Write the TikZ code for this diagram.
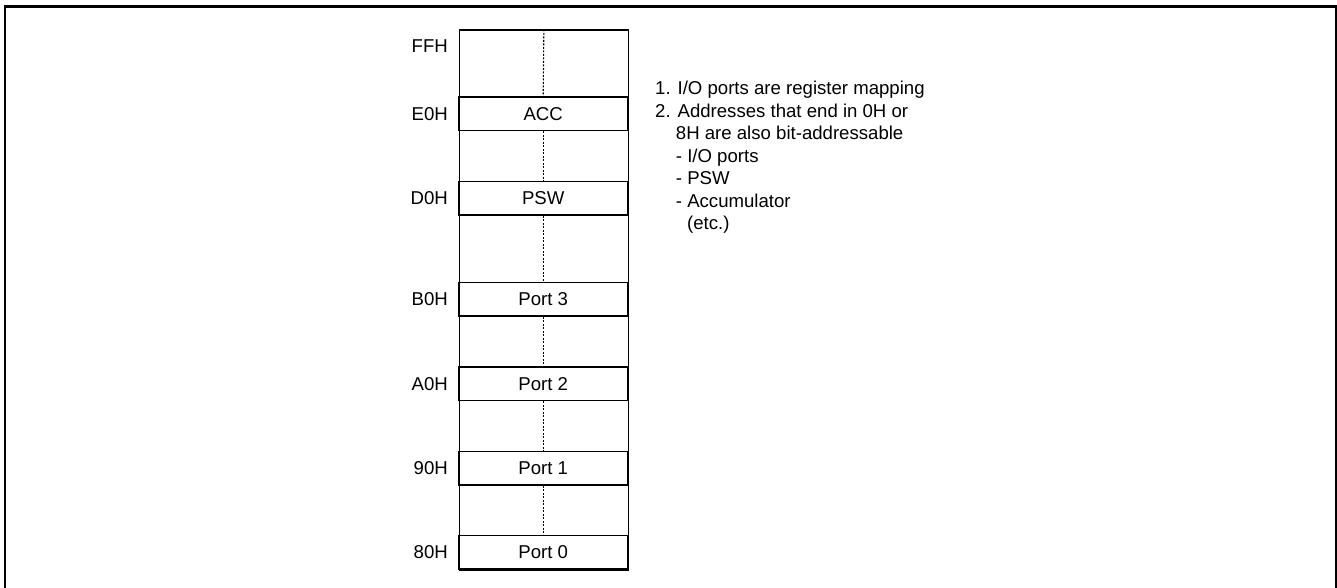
\documentclass[tikz,border=0pt]{standalone}
\usepackage{fontspec}
\setmainfont{Liberation Sans}
\begin{document}
\begin{tikzpicture}[x=1pt,y=-1pt,
  every node/.style={font=\fontsize{18.6}{22.5}\selectfont, inner sep=0pt},
  memmap/.style={draw, line width=1.3pt, minimum width=169pt, minimum height=540pt, anchor=north west},
  regrow/.style={draw, line width=1.5pt, minimum width=169pt, minimum height=33.5pt, text height=13.3pt, text depth=0pt},
  addr/.style={anchor=east, text height=13.3pt, text depth=0pt},
  note/.style={anchor=base west},
  gapline/.style={line width=1.1pt, dash pattern=on 2pt off 1.5pt},
  frame/.style={line width=2.2pt}]
\useasboundingbox (0,0) rectangle (1337,587);
% outer frame (bottom edge lies below the visible area)
\coordinate (fbl) at (5,610);
\coordinate (ftl) at (5,6.5);
\coordinate (ftr) at (1336.2,6.5);
\coordinate (fbr) at (1336.2,610);
\draw[frame] (fbl) -- (ftl) -- (ftr) -- (fbr);
% memory map
\node[memmap] (map) at (458.7,29.3) {};
\node[regrow] (acc) at (543.2,113.5) {ACC};
\node[regrow] (psw) at (543.2,198.3) {PSW};
\node[regrow] (p3) at (543.2,299.2) {Port 3};
\node[regrow] (p2) at (543.2,383.5) {Port 2};
\node[regrow] (p1) at (543.2,468.0) {Port 1};
\node[regrow] (p0) at (543.2,552.3) {Port 0};
\draw[gapline] (map.north) -- (acc.north);
\draw[gapline] (acc.south) -- (psw.north);
\draw[gapline] (psw.south) -- (p3.north);
\draw[gapline] (p3.south) -- (p2.north);
\draw[gapline] (p2.south) -- (p1.north);
\draw[gapline] (p1.south) -- (p0.north);
% addresses
\node[addr] (aff) at (448,46) {FFH};
\node[addr] (ae0) at (448,113.5) {E0H};
\node[addr] (ad0) at (448,198.3) {D0H};
\node[addr] (ab0) at (448,299.2) {B0H};
\node[addr] (aa0) at (448,383.5) {A0H};
\node[addr] (a90) at (448,468.0) {90H};
\node[addr] (a80) at (448,552.3) {80H};
% notes
\node[note] (n1) at (655,94.5) {1. I/O ports are register mapping};
\node[note] (n2) at (655,117) {2. Addresses that end in 0H or};
\node[note] (n3) at (675.7,139.5) {8H are also bit-addressable};
\node[note] (n4) at (675.7,162) {- I/O ports};
\node[note] (n5) at (675.7,184.5) {- PSW};
\node[note] (n6) at (675.7,207) {- Accumulator};
\node[note] (n7) at (687,229.5) {(etc.)};
\end{tikzpicture}
\end{document}
